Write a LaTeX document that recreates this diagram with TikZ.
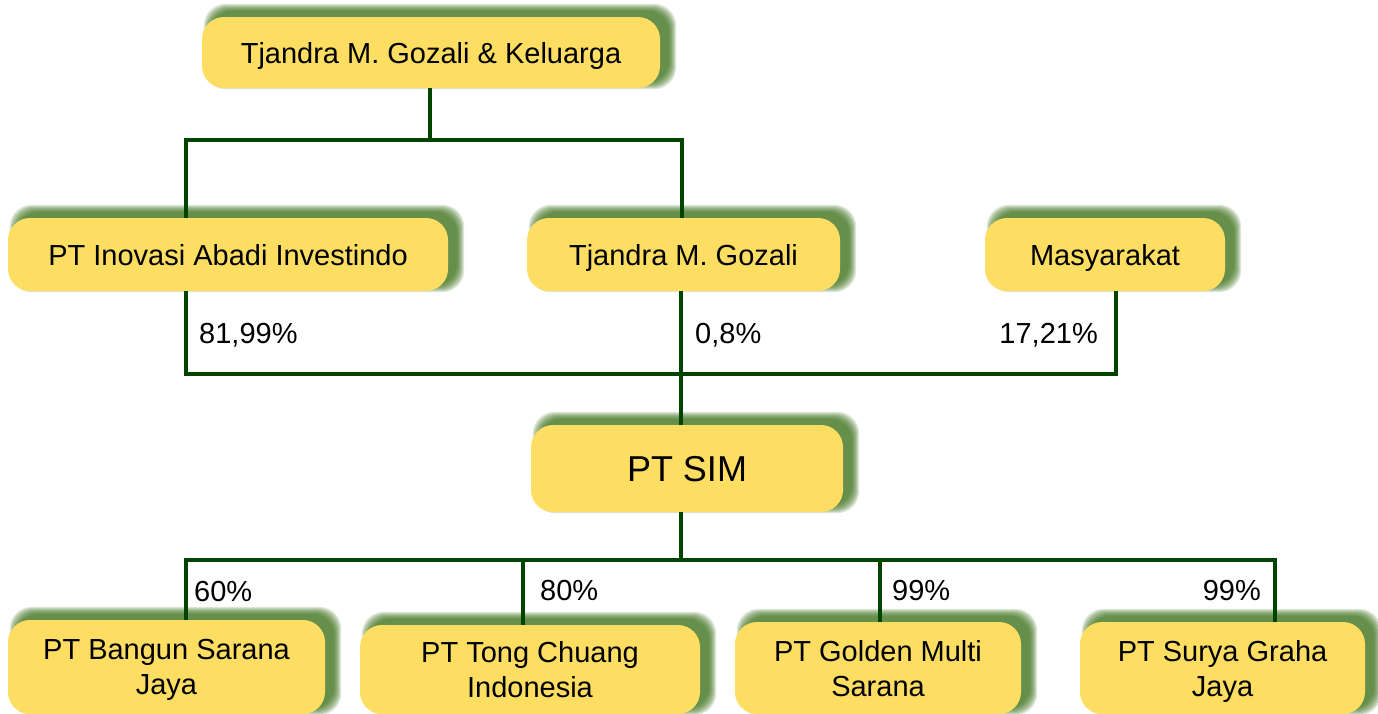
\documentclass[tikz,border=0pt]{standalone}
\usepackage{fontspec}
\setmainfont{Liberation Sans}
\usetikzlibrary{calc,backgrounds}
\definecolor{boxyellow}{RGB}{253,222,98}
\definecolor{shadowgreen}{RGB}{55,110,20}
\definecolor{linegreen}{RGB}{0,68,0}
\newcommand\boxshadow[1]{%
  \begin{pgfonlayer}{background}
    \foreach \k in {0,1,...,7}{%
      \fill[shadowgreen, opacity=0.16, rounded corners=22pt]
        ($(#1.south west)+(9-\k,-6+\k)$) rectangle ($(#1.north east)+(9+\k,-6-\k)$);
    }
  \end{pgfonlayer}}
\begin{document}
\begin{tikzpicture}[x=1pt,y=-1pt,
  orgbox/.style={rounded corners=22pt, fill=boxyellow, draw=none, align=center,
    inner sep=0pt, text depth=0pt, font=\fontsize{29}{35}\selectfont},
  conn/.style={draw=linegreen, line width=4pt},
  pct/.style={inner sep=0pt, font=\fontsize{29}{35}\selectfont}]
\useasboundingbox (0,0) rectangle (1378,713);
\begin{pgfonlayer}{background}
\fill[white] (0,0) rectangle (1378,713);
\end{pgfonlayer}
% nodes
\node[orgbox, minimum width=458pt, minimum height=71pt] (top) at (431,52.5) {Tjandra M. Gozali \& Keluarga};
\node[orgbox, minimum width=440pt, minimum height=73pt] (ino) at (228,254.5) {PT Inovasi Abadi Investindo};
\node[orgbox, minimum width=313pt, minimum height=73pt] (tj) at (683.5,254.5) {Tjandra M. Gozali};
\node[orgbox, minimum width=240pt, minimum height=73pt] (mas) at (1105,254.5) {Masyarakat};
\node[orgbox, minimum width=312pt, minimum height=87pt, font=\fontsize{36}{42}\selectfont] (sim) at (687,468.5) {PT SIM};
\node[orgbox, minimum width=317pt, minimum height=94pt] (bang) at (166.5,667) {PT Bangun Sarana\\Jaya};
\node[orgbox, minimum width=340pt, minimum height=89pt] (tong) at (530,669.5) {PT Tong Chuang\\Indonesia};
\node[orgbox, minimum width=286pt, minimum height=92pt] (gold) at (878,668) {PT Golden Multi\\Sarana};
\node[orgbox, minimum width=285pt, minimum height=92pt] (sur) at (1222.5,668) {PT Surya Graha\\Jaya};
\boxshadow{top}\boxshadow{ino}\boxshadow{tj}\boxshadow{mas}\boxshadow{sim}
\boxshadow{bang}\boxshadow{tong}\boxshadow{gold}\boxshadow{sur}
% junction coordinates
\coordinate (h1L) at (186,140);
\coordinate (h1R) at (682,140);
\coordinate (h2L) at (186,374);
\coordinate (h2R) at (1116,374);
\coordinate (v2) at (681,374);
\coordinate (h3L) at (186,560);
\coordinate (h3R) at (1275,560);
\coordinate (v3) at (681,560);
\coordinate (t3) at (523,560);
\coordinate (g3) at (880,560);
% connectors
\draw[conn] (top.south -| 430,0) -- (430,140);
\draw[conn] (ino.north -| h1L) -- (h1L) -- (h1R) -- (tj.north -| h1R);
\draw[conn] (ino.south -| h2L) -- (h2L) -- (h2R) -- (mas.south -| h2R);
\draw[conn] (tj.south -| v2) -- (sim.north -| v2);
\draw[conn] (sim.south -| v3) -- (v3);
\draw[conn] (bang.north -| h3L) -- (h3L) -- (h3R) -- (sur.north -| h3R);
\draw[conn] (t3) -- (tong.north -| t3);
\draw[conn] (g3) -- (gold.north -| g3);
% percentage labels
\node[pct, anchor=base west] (p1) at (199,343) {81,99\%};
\node[pct, anchor=base west] (p2) at (695,343) {0,8\%};
\node[pct, anchor=base east] (p3) at (1098,343) {17,21\%};
\node[pct, anchor=base west] (p4) at (194,601) {60\%};
\node[pct, anchor=base west] (p5) at (540,600) {80\%};
\node[pct, anchor=base west] (p6) at (892,600) {99\%};
\node[pct, anchor=base east] (p7) at (1261,600) {99\%};
\end{tikzpicture}
\end{document}
